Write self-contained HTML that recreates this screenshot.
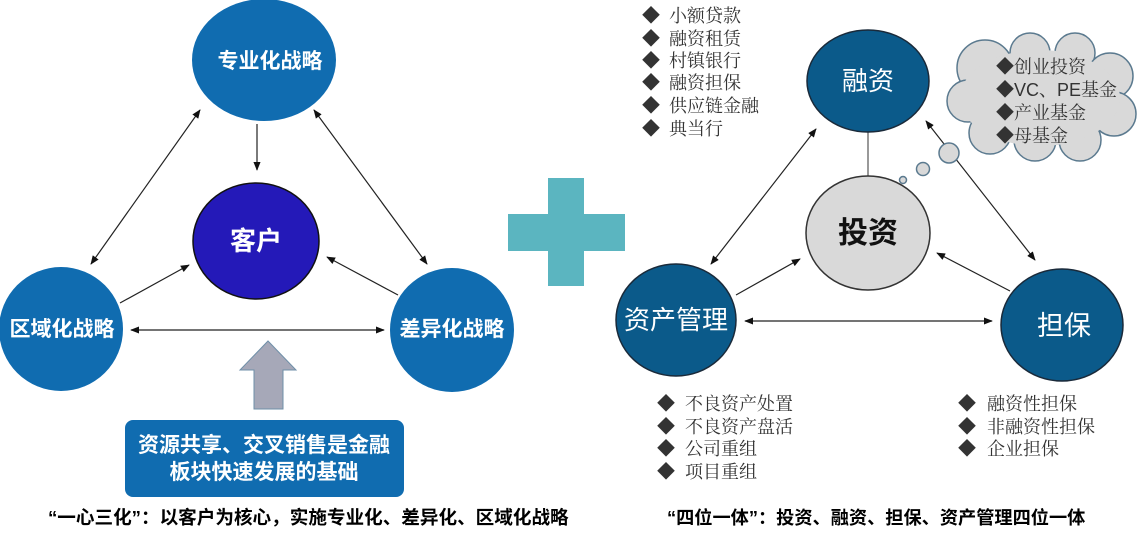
<!DOCTYPE html>
<html><head><meta charset="utf-8"><style>
html,body{margin:0;padding:0;background:#fff;}
svg{display:block}
.b{font-family:"Liberation Sans","Noto Sans CJK SC",sans-serif;font-weight:bold}
.s{font-family:"Liberation Sans","Noto Serif CJK SC",serif;fill:#333}
</style></head><body>
<svg width="1137" height="533" viewBox="0 0 1137 533" xmlns="http://www.w3.org/2000/svg">
<defs>
<marker id="a" viewBox="0 0 10 10" refX="9" refY="5" markerWidth="9" markerHeight="9" orient="auto-start-reverse" markerUnits="userSpaceOnUse"><path d="M0,1 L10,5 L0,9 z" fill="#111"/></marker>
</defs>
<!-- Left diagram -->
<g stroke="#222" stroke-width="1.2" fill="none">
<line x1="257" y1="124" x2="257" y2="170" marker-end="url(#a)"/>
<line x1="91" y1="264" x2="200" y2="110" marker-start="url(#a)" marker-end="url(#a)"/>
<line x1="314" y1="110" x2="427" y2="264" marker-start="url(#a)" marker-end="url(#a)"/>
<line x1="120" y1="303" x2="189" y2="265" marker-end="url(#a)"/>
<line x1="398" y1="295" x2="327" y2="257" marker-end="url(#a)"/>
<line x1="131" y1="330" x2="384" y2="330" marker-start="url(#a)" marker-end="url(#a)"/>
</g>
<ellipse cx="264" cy="60" rx="72" ry="61" fill="#106cb0"/>
<ellipse cx="256" cy="241" rx="63" ry="58" fill="#2419b8" stroke="#111" stroke-width="1.5"/>
<ellipse cx="61" cy="329" rx="62" ry="62" fill="#106cb0"/>
<ellipse cx="452" cy="330" rx="62" ry="62" fill="#106cb0"/>
<text class="b" x="270" y="68" font-size="21" fill="#fff" text-anchor="middle">专业化战略</text>
<text class="b" x="256" y="250" font-size="26" fill="#fff" text-anchor="middle">客户</text>
<text class="b" x="62" y="336" font-size="21" fill="#fff" text-anchor="middle">区域化战略</text>
<text class="b" x="452" y="336" font-size="21" fill="#fff" text-anchor="middle">差异化战略</text>
<path d="M254,409 L254,370 L240,370 L268,341 L296,370 L283,370 L283,409 z" fill="#a6a8b8" stroke="#6f8fa8" stroke-width="1"/>
<rect x="125" y="420" width="279" height="77" rx="8" fill="#106cb0"/>
<text class="b" x="264" y="452" font-size="21" fill="#fff" text-anchor="middle">资源共享、交叉销售是金融</text>
<text class="b" x="264" y="479" font-size="21" fill="#fff" text-anchor="middle">板块快速发展的基础</text>
<text class="b" x="48" y="524" font-size="18.6" fill="#000">“一心三化”：以客户为核心，实施专业化、差异化、区域化战略</text>
<!-- plus -->
<rect x="548" y="178" width="36" height="108" fill="#5bb5c0"/>
<rect x="508" y="214" width="117" height="37" fill="#5bb5c0"/>
<!-- Right diagram -->
<g stroke="#222" stroke-width="1.2" fill="none">
<line x1="868" y1="131" x2="868" y2="176" stroke="#555"/>
<line x1="711" y1="264" x2="816" y2="129" marker-start="url(#a)" marker-end="url(#a)"/>
<line x1="926" y1="121" x2="1035" y2="260" marker-start="url(#a)" marker-end="url(#a)"/>
<line x1="736" y1="295" x2="800" y2="259" marker-end="url(#a)"/>
<line x1="1010" y1="291" x2="937" y2="253" marker-end="url(#a)"/>
<line x1="745" y1="321" x2="992" y2="321" marker-start="url(#a)" marker-end="url(#a)"/>
</g>
<!-- cloud -->
<g fill="#d9d9d9" stroke="#5b7a8f" stroke-width="1.5">
<circle cx="985" cy="68" r="28"/><circle cx="1030" cy="53" r="20"/><circle cx="1075" cy="53" r="20"/><circle cx="1110" cy="76" r="23"/>
<circle cx="1114" cy="114" r="22"/><circle cx="1080" cy="140" r="21"/><circle cx="1035" cy="140" r="21"/><circle cx="990" cy="133" r="21"/><circle cx="968" cy="101" r="21"/>
<circle cx="949" cy="153" r="10"/><circle cx="923" cy="169" r="6.5"/><circle cx="903" cy="180" r="3.5"/>
</g>
<ellipse cx="1040" cy="98" rx="80" ry="48" fill="#d9d9d9"/>
<ellipse cx="868" cy="81" rx="61" ry="51" fill="#0b5a8a" stroke="#1a2a3a" stroke-width="1.5"/>
<ellipse cx="868" cy="233" rx="62" ry="57" fill="#d9d9d9" stroke="#333" stroke-width="1.5"/>
<ellipse cx="676" cy="320" rx="60" ry="56" fill="#0b5a8a" stroke="#1a2a3a" stroke-width="1.5"/>
<ellipse cx="1062" cy="325" rx="61" ry="56" fill="#0b5a8a" stroke="#1a2a3a" stroke-width="1.5"/>
<text x="868" y="90" font-family="Liberation Sans,Noto Sans CJK SC,sans-serif" font-size="26" fill="#fff" text-anchor="middle">融资</text>
<text class="b" x="868" y="243" font-size="30" fill="#111" text-anchor="middle">投资</text>
<text x="676" y="329" font-family="Liberation Sans,Noto Sans CJK SC,sans-serif" font-size="26" fill="#fff" text-anchor="middle">资产管理</text>
<text x="1064" y="335" font-family="Liberation Sans,Noto Sans CJK SC,sans-serif" font-size="27" fill="#fff" text-anchor="middle">担保</text>
<g class="s" font-size="18">
<text x="642" y="22">◆<tspan x="669">小额贷款</tspan></text>
<text x="642" y="45">◆<tspan x="669">融资租赁</tspan></text>
<text x="642" y="67">◆<tspan x="669">村镇银行</tspan></text>
<text x="642" y="89">◆<tspan x="669">融资担保</tspan></text>
<text x="642" y="112">◆<tspan x="669">供应链金融</tspan></text>
<text x="642" y="135">◆<tspan x="669">典当行</tspan></text>
<text x="657" y="410">◆<tspan x="685">不良资产处置</tspan></text>
<text x="657" y="433">◆<tspan x="685">不良资产盘活</tspan></text>
<text x="657" y="455">◆<tspan x="685">公司重组</tspan></text>
<text x="657" y="478">◆<tspan x="685">项目重组</tspan></text>
<text x="958" y="410">◆<tspan x="987">融资性担保</tspan></text>
<text x="958" y="433">◆<tspan x="987">非融资性担保</tspan></text>
<text x="958" y="455">◆<tspan x="987">企业担保</tspan></text>
</g>
<g class="s" font-size="18" fill="#111">
<text x="996" y="73">◆创业投资</text>
<text x="996" y="96">◆VC、PE基金</text>
<text x="996" y="119">◆产业基金</text>
<text x="996" y="142">◆母基金</text>
</g>
<text class="b" x="667" y="524" font-size="18.2" fill="#000">“四位一体”：投资、融资、担保、资产管理四位一体</text>
</svg>
</body></html>
